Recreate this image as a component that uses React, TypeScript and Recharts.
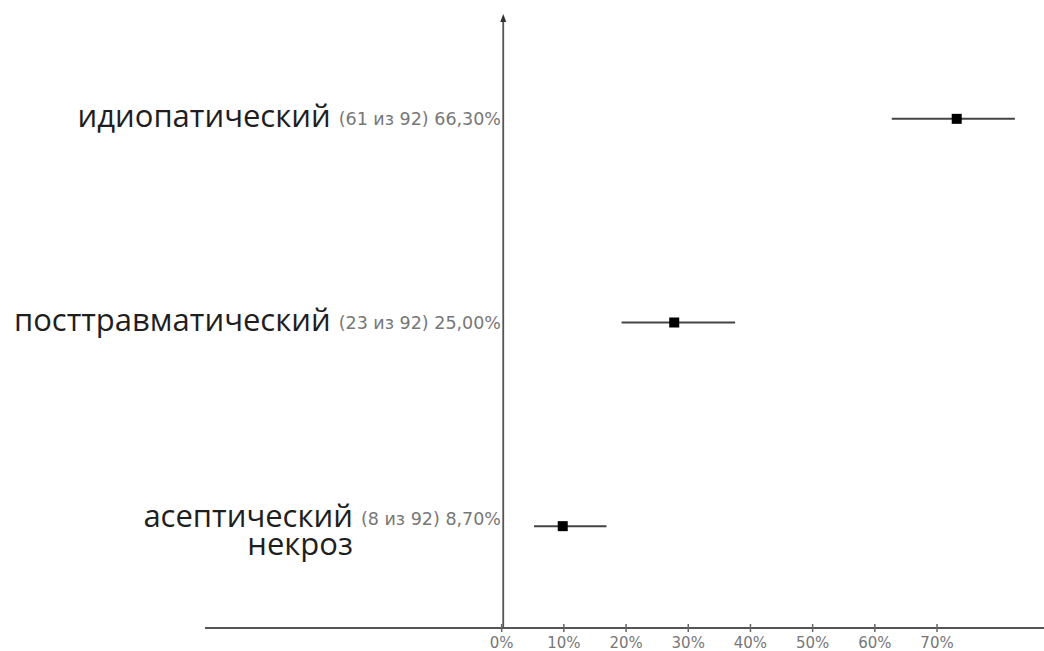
import React from "react"
import {
  ComposedChart,
  Line,
  ErrorBar,
  XAxis,
  YAxis,
  ReferenceLine,
} from "recharts"

// categories and stats
const categoryLines = [["идиопатический"], ["посттравматический"], ["асептический", "некроз"]]
const categories = categoryLines.map((l) => l.join(" "))
const counts = [61, 23, 8]
const total = 92
const percents = [66.3, 25.0, 8.7]
const percentLabels = ["66,30%", "25,00%", "8,70%"]
const ciLow = [56.8, 17.3, 4.5]
const ciHigh = [74.8, 33.9, 15.1]
const xTicks = [0, 10, 20, 30, 40, 50, 60, 70]

const rows = categories.map((name, i) => ({
  name,
  value: percents[i],
  err: [percents[i] - ciLow[i], ciHigh[i] - percents[i]],
}))

const LABEL_X = 501

function YTick(props: any) {
  const { y, payload } = props
  const i = categories.indexOf(payload.value)
  const lines = categoryLines[i]
  const stat = `(${counts[i]} из ${total}) ${percentLabels[i]}`
  const big = { fontFamily: "Open Sans", fontSize: 31, fill: "#1e1e1e" }
  const small = { fontFamily: "DejaVu Sans", fontSize: 17.5, fill: "#777" }
  if (lines.length === 1) {
    return (
      <text x={LABEL_X} y={y + 8} textAnchor="end">
        <tspan {...big}>{lines[0]} </tspan>
        <tspan {...small} dy={-2}>{stat}</tspan>
      </text>
    )
  }
  return (
    <g>
      <text x={LABEL_X} y={y + 1} textAnchor="end">
        <tspan {...big}>{lines[0]} </tspan>
        <tspan {...small} dy={-2}>{stat}</tspan>
      </text>
      <text x={LABEL_X} y={y + 29} textAnchor="end">
        <tspan {...big}>{lines[1]} </tspan>
        <tspan {...small} fill="none">{stat}</tspan>
      </text>
    </g>
  )
}

function XTick(props: any) {
  const { x, y, payload } = props
  return (
    <g>
      <line x1={x} x2={x} y1={y - 4} y2={y + 4} stroke="#666" strokeWidth={1.5} />
      <text x={x} y={y + 20} textAnchor="middle" fontFamily="DejaVu Sans" fontSize={15} fill="#777">
        {payload.value}%
      </text>
    </g>
  )
}

function Square(props: any) {
  const { cx, cy } = props
  if (cx == null || cy == null) return null
  return <rect x={cx - 5} y={cy - 5} width={10} height={10} fill="#000" />
}

function ArrowLine(props: any) {
  const { x1, y1, x2, y2 } = props
  const top = Math.min(y1, y2)
  const bottom = Math.max(y1, y2)
  return (
    <g>
      <line x1={x1} x2={x2} y1={top} y2={bottom} stroke="#555" strokeWidth={1.8} />
      <path d={`M${x1 - 3},${top + 5} L${x1},${top - 3} L${x1 + 3},${top + 5} Z`} fill="#333" />
    </g>
  )
}

export default function App() {
  return (
    <div style={{ position: "absolute", left: 0, top: 0, width: 1044, height: 651, background: "#fff" }}>
      <ComposedChart
        layout="vertical"
        width={1044}
        height={651}
        data={rows}
        margin={{ top: 17, right: 0, bottom: 0, left: 0 }}
      >
        <XAxis
          xAxisId="data"
          type="number"
          dataKey="value"
          orientation="top"
          domain={[-43.6, 79.06]}
          allowDataOverflow
          height={0}
          hide
        />
        <XAxis
          xAxisId="ticks"
          type="number"
          orientation="bottom"
          domain={[-47.7, 87.2]}
          ticks={xTicks}
          interval={0}
          allowDataOverflow
          height={23}
          axisLine={{ stroke: "#555", strokeWidth: 2 }}
          tickLine={false}
          tickSize={0}
          tickMargin={0}
          tick={<XTick />}
        />
        <YAxis
          type="category"
          dataKey="name"
          scale="band"
          width={205}
          axisLine={false}
          tickLine={false}
          tick={<YTick />}
          interval={0}
        />
        <ReferenceLine xAxisId="data" x={0} shape={<ArrowLine />} />
        <Line
          xAxisId="data"
          dataKey="value"
          stroke="none"
          dot={<Square />}
          activeDot={false}
          isAnimationActive={false}
        >
          <ErrorBar dataKey="err" direction="x" width={0} stroke="#444" strokeWidth={2} />
        </Line>
      </ComposedChart>
    </div>
  )
}
